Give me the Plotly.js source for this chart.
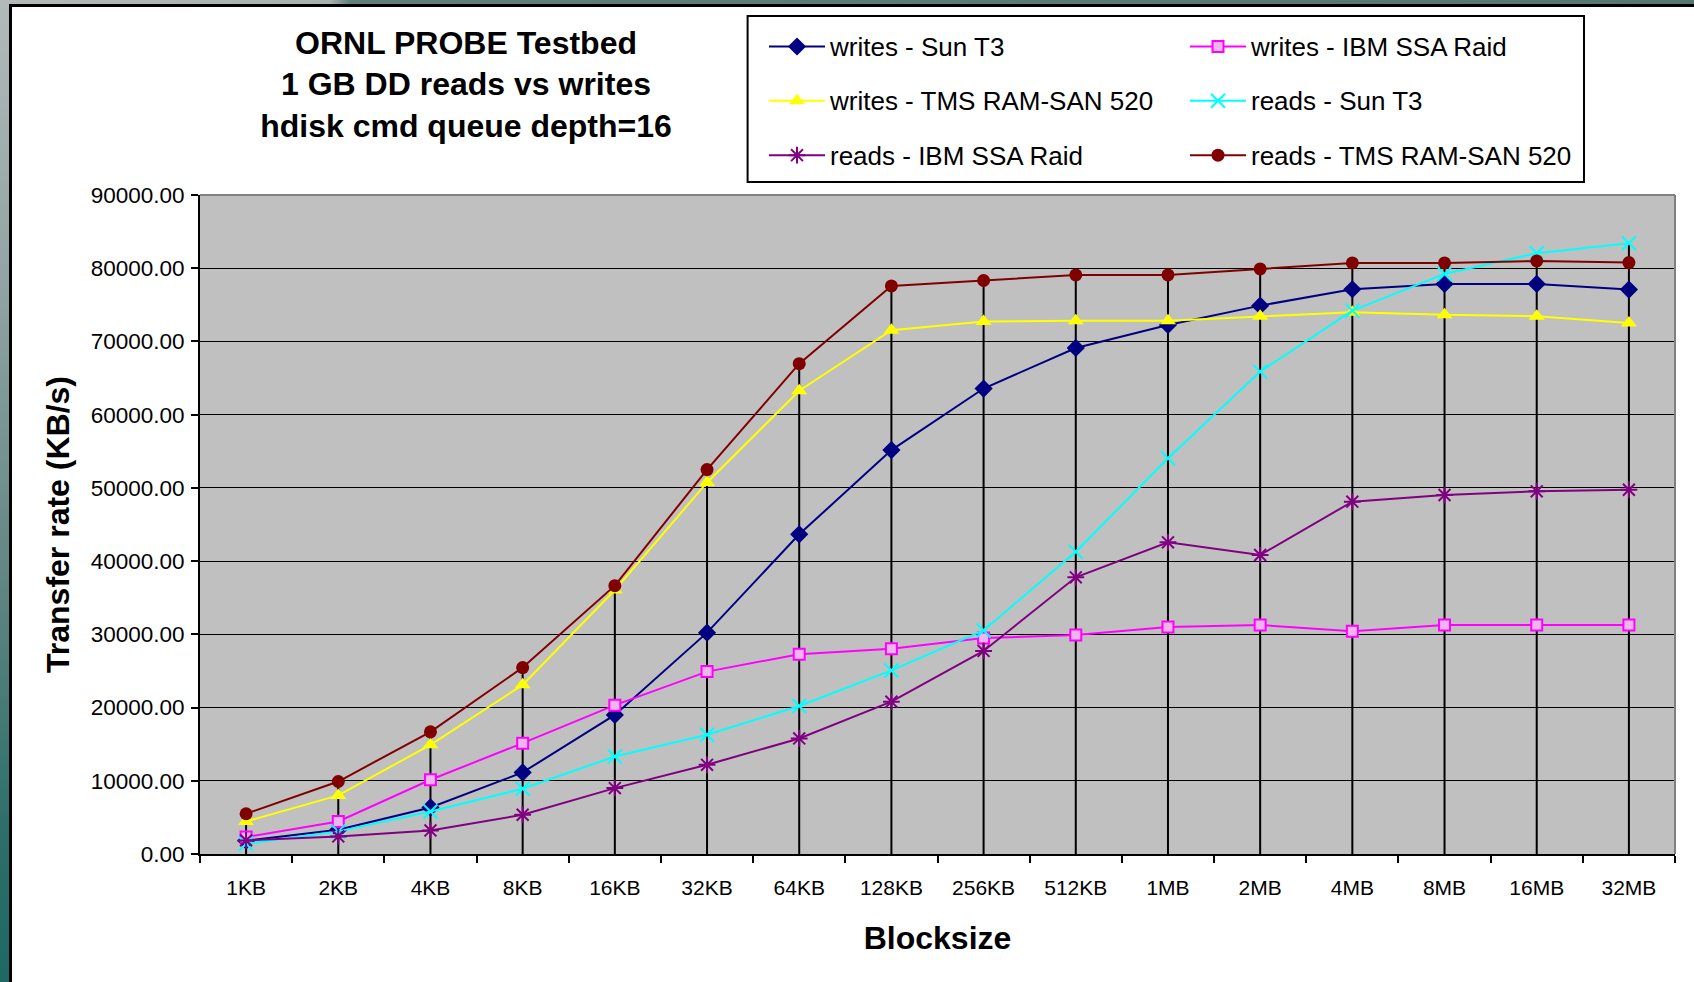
<!DOCTYPE html>
<html>
<head>
<meta charset="utf-8">
<script src="https://cdn.plot.ly/plotly-3.0.1.min.js"></script>
<style>
  html, body { margin: 0; padding: 0; background: #fff; overflow: hidden; }
  #chart { position: absolute; left: 0; top: 0; width: 1694px; height: 982px; }
  .edge { position: absolute; pointer-events: none; }
  #band-top { left: 0; top: 0; width: 1694px; height: 4px;
    background: linear-gradient(to right, #b3b9b9 0px, #aab2b1 330px, #607f79 350px, #567670 1694px); }
  #band-left { left: 0; top: 0; width: 9px; height: 982px;
    background: linear-gradient(to bottom, #b3b9b9 0%, #8fa3a2 30%, #5f8582 60%, #2c6e6a 85%, #1f6864 100%); }
  #rule-top { left: 9px; top: 4px; width: 1685px; height: 3px; background: #000; }
  #rule-left { left: 9px; top: 4px; width: 3px; height: 978px; background: #000; }
</style>
</head>
<body>
<div id="chart"></div>
<div class="edge" id="band-top"></div>
<div class="edge" id="band-left"></div>
<div class="edge" id="rule-top"></div>
<div class="edge" id="rule-left"></div>
<script>
// Block sizes tested
const categories = ['1KB', '2KB', '4KB', '8KB', '16KB', '32KB', '64KB', '128KB',
                    '256KB', '512KB', '1MB', '2MB', '4MB', '8MB', '16MB', '32MB'];

// Transfer rates in KB/s
const writesSunT3   = [1810, 3310, 6360, 11140, 19000, 30230, 43660, 55160,
                       63570, 69110, 72250, 74890, 77130, 77850, 77850, 77080];
const writesIbmSsa  = [2320, 4450, 10140, 15140, 20330, 24910, 27290, 28020,
                       29500, 29900, 31000, 31270, 30410, 31270, 31270, 31270];
const writesTmsRam  = [4450, 8000, 14910, 23100, 36060, 50740, 63270, 71530,
                       72710, 72840, 72840, 73440, 73990, 73660, 73440, 72530];
const readsSunT3    = [1400, 3090, 5810, 8910, 13320, 16280, 20210, 25070,
                       30530, 41290, 54040, 65880, 74210, 79220, 82050, 83410];
const readsIbmSsa   = [1860, 2400, 3220, 5360, 9000, 12180, 15780, 20800,
                       27730, 37790, 42570, 40830, 48120, 49030, 49530, 49750];
const readsTmsRam   = [5500, 9900, 16690, 25460, 36650, 52500, 66960, 77580,
                       78320, 79085, 79085, 79905, 80720, 80720, 80990, 80770];

const yTickValues = [0, 10000, 20000, 30000, 40000, 50000, 60000, 70000, 80000, 90000];

const FONT = 'Arial, "Liberation Sans", sans-serif';

// Legend columns: 'left' and 'right' groups, filled top to bottom
const seriesDefs = [
  { name: 'writes - Sun T3',          y: writesSunT3,  col: 'left',  color: '#000080', marker: { symbol: 'diamond', size: 14 } },
  { name: 'writes - IBM SSA Raid',    y: writesIbmSsa, col: 'right', color: '#ff00ff', marker: { symbol: 'square', size: 11, color: '#f0b4f0', line: { color: '#ff00ff', width: 2 } } },
  { name: 'writes - TMS RAM-SAN 520', y: writesTmsRam, col: 'left',  color: '#ffff00', marker: { symbol: 'triangle-up', size: 14 } },
  { name: 'reads - Sun T3',           y: readsSunT3,   col: 'right', color: '#00ffff', marker: { symbol: 'x-thin-open', size: 14, line: { color: '#00ffff', width: 2 } } },
  { name: 'reads - IBM SSA Raid',     y: readsIbmSsa,  col: 'left',  color: '#800080', marker: { symbol: 'asterisk-open', size: 14, line: { color: '#800080', width: 2 } } },
  { name: 'reads - TMS RAM-SAN 520',  y: readsTmsRam,  col: 'right', color: '#800000', marker: { symbol: 'circle', size: 13 } }
];

// Drop lines: one vertical segment per block size, from the axis up to the highest point
const allSeries = seriesDefs.map(s => s.y);
const peak = categories.map((_, i) => Math.max(...allSeries.map(s => s[i])));
const dropX = [], dropY = [];
categories.forEach((c, i) => { dropX.push(c, c, null); dropY.push(0, peak[i], null); });

const traces = [{
  type: 'scatter', mode: 'lines', x: dropX, y: dropY,
  line: { color: '#000', width: 2 }, showlegend: false, hoverinfo: 'skip', connectgaps: false
}];

seriesDefs.forEach(s => {
  const marker = Object.assign({ color: s.color }, s.marker);
  traces.push({
    type: 'scatter', mode: 'lines+markers',
    name: '<span style="font-size:26px;baseline-shift:6px">' + s.name + '</span>',
    legendgroup: s.col,
    x: categories, y: s.y,
    line: { color: s.color, width: 2 },
    marker: marker
  });
});

// Legend frame position (pixels from the top-left of the page)
const legendBox = { left: 747.6, right: 1584, top: 16, bottom: 182 };
const plotBox = { left: 200, right: 1675, top: 195, bottom: 854 };
const toPaperX = px => (px - plotBox.left) / (plotBox.right - plotBox.left);
const toPaperY = py => (plotBox.bottom - py) / (plotBox.bottom - plotBox.top);

const layout = {
  width: 1694, height: 982,
  margin: { l: plotBox.left, r: 1694 - plotBox.right, t: plotBox.top, b: 982 - plotBox.bottom, autoexpand: false },
  paper_bgcolor: '#ffffff',
  plot_bgcolor: '#c0c0c0',
  font: { family: FONT, color: '#000' },
  showlegend: true,
  title: {
    text: 'ORNL PROBE Testbed<br>1 GB DD reads vs writes<br>hdisk cmd queue depth=16',
    font: { family: FONT, size: 32, weight: 'bold', color: '#000' },
    xref: 'container', yref: 'container',
    x: 466 / 1694, xanchor: 'center',
    y: 1 - 53.5 / 982, yanchor: 'middle'
  },
  xaxis: {
    type: 'category', categoryorder: 'array', categoryarray: categories,
    range: [-0.5, categories.length - 0.5],
    tickson: 'boundaries', ticks: 'outside', ticklen: 7, tickwidth: 2, tickcolor: '#000',
    ticklabelstandoff: 14,
    showline: true, linecolor: '#000', linewidth: 2,
    showgrid: false, zeroline: false,
    tickfont: { family: FONT, size: 21, color: '#000' },
    automargin: false, fixedrange: true,
    title: { text: 'Blocksize', font: { family: FONT, size: 32, weight: 'bold', color: '#000' }, standoff: 28 }
  },
  yaxis: {
    range: [0, 90000], tickmode: 'array', tickvals: yTickValues,
    tickformat: '.2f',
    ticks: 'outside', ticklen: 7, tickwidth: 2, tickcolor: '#000',
    ticklabelstandoff: 2,
    showline: true, linecolor: '#000', linewidth: 2,
    showgrid: true, gridcolor: '#000', gridwidth: 1, zeroline: false,
    tickfont: { family: FONT, size: 22.5, color: '#000' },
    automargin: false, fixedrange: true,
    title: { text: 'Transfer rate (KB/s)', font: { family: FONT, size: 32, weight: 'bold', color: '#000' }, standoff: 11 }
  },
  legend: {
    orientation: 'h', traceorder: 'grouped',
    xref: 'container', yref: 'container',
    x: 764 / 1694, xanchor: 'left',
    y: 1 - 14.3 / 982, yanchor: 'top',
    bgcolor: 'rgba(0,0,0,0)', borderwidth: 0,
    font: { family: FONT, size: 39.5, color: '#000' },
    entrywidth: 350, entrywidthmode: 'pixels',
    itemwidth: 56
  },
  shapes: [
    // legend frame
    { type: 'rect', xref: 'paper', yref: 'paper',
      x0: toPaperX(legendBox.left), x1: toPaperX(legendBox.right),
      y0: toPaperY(legendBox.bottom), y1: toPaperY(legendBox.top),
      line: { color: '#000', width: 2 }, fillcolor: '#fff', layer: 'above' },
    // light frame on the top and right of the plotting area
    { type: 'line', xref: 'paper', yref: 'paper', x0: 0, x1: 1, y0: 1, y1: 1, line: { color: '#808080', width: 2 }, layer: 'above' },
    { type: 'line', xref: 'paper', yref: 'paper', x0: 1, x1: 1, y0: 0, y1: 1, line: { color: '#808080', width: 2 }, layer: 'above' }
  ]
};

Plotly.newPlot('chart', traces, layout, { displayModeBar: false, staticPlot: true });
</script>
</body>
</html>
